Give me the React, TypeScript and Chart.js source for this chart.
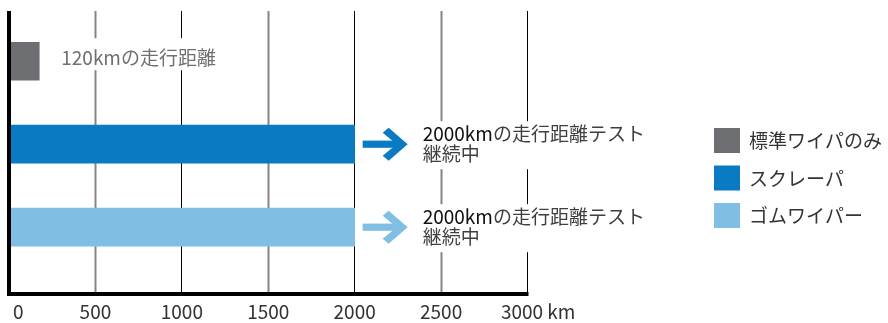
import React, { useEffect, useRef } from "react";
import { Chart, registerables } from "chart.js";

Chart.register(...registerables);

// ---- data ----
const categories = ["標準ワイパのみ", "スクレーパ", "ゴムワイパー"];
const distances = [175, 2000, 2000];
const barColors = ["#6d6e72", "#0a7bc2", "#80bfe3"];
const noteLead = ["120km", "2000km", "2000km"];
const noteRest = ["の走行距離", "の走行距離テスト", "の走行距離テスト"];
const noteLine2 = ["", "継続中", "継続中"];
const hasArrow = [false, true, true];
const xTicks = [0, 500, 1000, 1500, 2000, 2500, 3000];
const xTickLabels = ["0", "500", "1000", "1500", "2000", "2500", "3000"];
const xUnit = "km";

const FONT = '"Noto Sans CJK JP", "Noto Sans", sans-serif';

function drawArrow(ctx: CanvasRenderingContext2D, x0: number, cy: number, color: string) {
  ctx.save();
  ctx.fillStyle = color;
  // shaft
  ctx.fillRect(x0 + 8, cy - 3.6, 37, 7.2);
  // chevron head
  ctx.beginPath();
  ctx.moveTo(x0 + 34, cy - 16.5);
  ctx.lineTo(x0 + 53, cy);
  ctx.lineTo(x0 + 34, cy + 16.5);
  ctx.lineTo(x0 + 28, cy + 11.5);
  ctx.lineTo(x0 + 42, cy);
  ctx.lineTo(x0 + 28, cy - 11.5);
  ctx.closePath();
  ctx.fill();
  ctx.restore();
}

const overlay = {
  id: "overlay",
  beforeDatasetsDraw(chart: any) {
    const { ctx, chartArea, scales } = chart;
    const x = scales.x;
    ctx.save();
    xTicks.forEach((v) => {
      if (v === 0) return;
      const px = x.getPixelForValue(v);
      const major = v % 1000 === 0;
      ctx.strokeStyle = major ? "#000000" : "#858585";
      ctx.lineWidth = major ? 1 : 2;
      const xx = major ? Math.floor(px) + 0.5 : Math.round(px) + 0.5;
      ctx.beginPath();
      ctx.moveTo(xx, chartArea.top);
      ctx.lineTo(xx, chartArea.bottom - 2);
      ctx.stroke();
    });
    ctx.restore();
  },
  afterDatasetsDraw(chart: any) {
    const { ctx, chartArea, scales } = chart;
    const x = scales.x;
    const y = scales.y;
    ctx.save();
    ctx.font = `19px ${FONT}`;
    ctx.textBaseline = "middle";
    ctx.textAlign = "left";

    distances.forEach((v, i) => {
      const end = x.getPixelForValue(v);
      const cy = y.getPixelForValue(i);
      if (hasArrow[i]) {
        drawArrow(ctx, end, cy, barColors[i]);
        const tx = end + 68;
        const l1 = cy - 10;
        const l2 = cy + 10;
        const wLead = ctx.measureText(noteLead[i]).width;
        const wRest = ctx.measureText(noteRest[i]).width;
        const w2 = ctx.measureText(noteLine2[i]).width;
        const w = Math.max(wLead + wRest, w2);
        ctx.fillStyle = "#ffffff";
        ctx.fillRect(tx - 3, l1 - 13, w + 6, l2 - l1 + 28);
        ctx.fillStyle = "#111111";
        ctx.fillText(noteLead[i], tx, l1);
        ctx.fillStyle = "#3f3f3f";
        ctx.fillText(noteRest[i], tx + wLead, l1);
        ctx.fillText(noteLine2[i], tx, l2);
      } else {
        const tx = end + 22;
        const l1 = cy - 3;
        const text = noteLead[i] + noteRest[i];
        const w = ctx.measureText(text).width;
        ctx.fillStyle = "#ffffff";
        ctx.fillRect(tx - 3, cy - 23, w + 6, 32);
        ctx.fillStyle = "#707070";
        ctx.fillText(text, tx, l1);
      }
    });

    // axes lines
    ctx.strokeStyle = "#000000";
    ctx.lineWidth = 4;
    ctx.beginPath();
    ctx.moveTo(chartArea.left, chartArea.top);
    ctx.lineTo(chartArea.left, chartArea.bottom + 2);
    ctx.stroke();
    ctx.beginPath();
    ctx.moveTo(chartArea.left - 2, chartArea.bottom);
    ctx.lineTo(chartArea.right + 1, chartArea.bottom);
    ctx.stroke();

    // x tick labels
    ctx.fillStyle = "#333333";
    ctx.font = `19px ${FONT}`;
    const ty = chartArea.bottom + 17.5;
    xTicks.forEach((v, i) => {
      const px = x.getPixelForValue(v);
      if (i === 0) {
        ctx.textAlign = "left";
        ctx.fillText(xTickLabels[i], px + 4, ty);
      } else if (i === xTicks.length - 1) {
        const w = ctx.measureText(xTickLabels[i]).width;
        ctx.textAlign = "left";
        ctx.fillText(xTickLabels[i] + " " + xUnit, px - 5.5 - w / 2, ty);
      } else {
        ctx.textAlign = "center";
        ctx.fillText(xTickLabels[i], px, ty);
      }
    });

    // legend
    ctx.textAlign = "left";
    categories.forEach((c, i) => {
      const top = 128 + i * 37.5;
      ctx.fillStyle = barColors[i];
      ctx.fillRect(714, top, 26, 25);
      ctx.fillStyle = "#333333";
      ctx.fillText(c, 749, top + 13);
    });
    ctx.restore();
  },
};

export default function App() {
  const ref = useRef<HTMLCanvasElement | null>(null);
  useEffect(() => {
    document.body.style.margin = "0";
    const canvas = ref.current;
    if (!canvas) return;
    const chart = new Chart(canvas, {
      type: "bar",
      data: {
        datasets: [
          {
            data: distances.map((v, i) => ({ x: v, y: i })),
            backgroundColor: barColors,
            borderWidth: 0,
            barThickness: 38,
          },
        ],
      },
      options: {
        indexAxis: "y",
        animation: false,
        responsive: false,
        devicePixelRatio: 1,
        layout: { padding: { left: 9, right: 360.5, top: 11, bottom: 29 } },
        plugins: { legend: { display: false }, tooltip: { enabled: false } },
        scales: {
          x: { type: "linear", min: 0, max: 3000, display: false, offset: false },
          y: { type: "linear", min: -0.605, max: 2.805, reverse: true, display: false, offset: false, grid: { offset: false } },
        },
      },
      plugins: [overlay],
    } as any);
    return () => chart.destroy();
  }, []);
  return (
    <div style={{ width: 888, height: 323, position: "relative" }}>
      <canvas ref={ref} width={888} height={323} style={{ display: "block", width: 888, height: 323 }} />
    </div>
  );
}
